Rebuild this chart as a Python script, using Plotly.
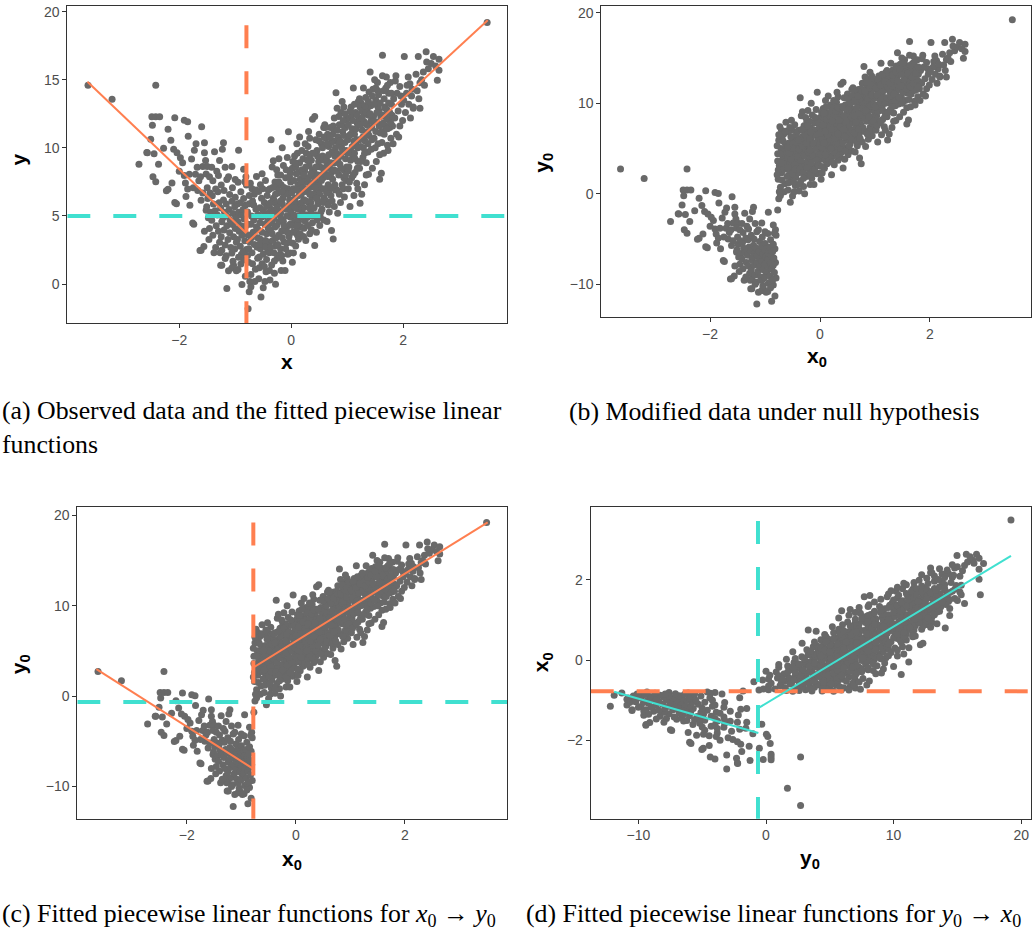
import plotly.graph_objects as go

# ---------------- data ----------------
BREAK_X = -0.79          # break point in x
NULL_SHIFT = 11.88       # vertical shift applied to the left branch under H0

# left branch (x < break), values as in the modified data (x0, y0)
LEFT_POINTS = [
    (-3.63, 2.71), (-3.20, 1.68), (-2.42, 2.71), (-2.49, 0.40), (-2.42, 0.40), (-2.35, 0.40),
    (-2.48, -0.22), (-2.08, 0.33), (-1.91, 0.14), (-1.85, 0.03), (-1.60, -0.33), (-2.20, -0.52),
    (-2.51, -1.25), (-2.57, -2.24), (-2.45, -2.31), (-2.72, -3.08), (-2.37, -3.08), (-2.47, -4.00),
    (-2.42, -4.37), (-2.15, -1.32), (-2.10, -1.98), (-2.04, -2.24), (-1.84, -1.03), (-1.70, -1.58),
    (-1.73, -2.06), (-1.55, -1.51), (-1.55, -2.24), (-1.53, -2.80), (-1.58, -3.24), (-1.50, -3.24),
    (-1.37, -2.17), (-1.21, -1.51), (-1.23, -1.98), (-1.06, -3.24), (-0.94, -2.06), (-0.85, -3.45),
    (-0.81, -4.00), (-0.83, -4.37), (-2.20, -4.92), (-2.13, -4.45), (-2.05, -5.99), (-1.94, -2.97),
    (-1.91, -3.90), (-1.89, -4.45), (-1.82, -3.82), (-1.71, -3.82), (-1.88, -5.44), (-1.81, -6.10),
    (-1.74, -7.49), (-1.67, -5.00), (-1.61, -5.73), (-1.52, -6.46), (-1.61, -9.40), (-1.56, -9.11),
    (-1.38, -9.58), (-1.24, -9.40), (-1.24, -10.50), (-1.15, -12.20), (-1.12, -10.90), (-1.03, -10.50),
    (-0.88, -11.90), (-0.82, -11.30), (-0.85, -10.10), (-0.80, -9.33), (-0.81, -7.60), (-0.82, -6.10),
    (-0.80, -4.60), (-1.26, -10.50), (-1.06, -10.70), (-1.63, -9.42), (-1.27, -9.58), (-1.76, -7.39),
    (-2.23, -5.03), (-2.08, -5.88), (-2.58, -2.22),
    (-1.50, -4.8), (-1.49, -5.6), (-1.51, -6.2), (-1.48, -7.0),
    (-1.45, -5.2), (-1.44, -6.6), (-1.46, -7.8),
    (-1.40, -4.3), (-1.41, -5.4), (-1.39, -6.0), (-1.42, -7.2), (-1.40, -8.3),
    (-1.35, -4.9), (-1.36, -6.5), (-1.34, -7.6),
    (-1.30, -3.9), (-1.31, -5.1), (-1.29, -5.9), (-1.32, -6.8), (-1.30, -8.0), (-1.28, -8.8),
    (-1.25, -4.6), (-1.26, -6.3), (-1.24, -7.3), (-1.25, -8.4),
    (-1.20, -5.0), (-1.21, -5.7), (-1.19, -6.6), (-1.22, -7.0), (-1.20, -7.9), (-1.18, -9.0),
    (-1.15, -4.2), (-1.16, -6.0), (-1.14, -6.9), (-1.15, -7.6), (-1.13, -8.6), (-1.16, -9.8),
    (-1.10, -5.3), (-1.11, -6.4), (-1.09, -7.2), (-1.10, -8.1), (-1.08, -9.2),
    (-1.05, -4.8), (-1.06, -5.8), (-1.04, -6.7), (-1.05, -7.5), (-1.03, -8.4), (-1.06, -9.6), (-1.04, -10.2),
    (-1.00, -5.5), (-1.01, -6.2), (-0.99, -7.0), (-1.00, -7.8), (-0.98, -8.8), (-1.01, -9.3),
    (-0.95, -4.4), (-0.96, -6.0), (-0.94, -6.6), (-0.95, -7.3), (-0.93, -8.0), (-0.96, -8.6), (-0.94, -9.9), (-0.95, -10.8),
    (-0.90, -5.1), (-0.91, -5.9), (-0.89, -6.8), (-0.90, -7.6), (-0.88, -8.3), (-0.91, -9.1), (-0.89, -9.7), (-0.90, -10.4),
    (-0.85, -5.6), (-0.86, -6.4), (-0.84, -7.1), (-0.85, -7.9), (-0.83, -8.7), (-0.86, -9.5),
    (-1.78, -2.7), (-1.68, -3.3), (-1.65, -4.3), (-1.75, -4.8), (-1.62, -4.0), (-1.58, -5.2), (-1.52, -3.8),
    (-1.46, -4.0), (-1.42, -3.3), (-1.33, -3.6), (-1.28, -2.8), (-1.18, -3.3), (-1.12, -4.0), (-1.00, -4.2),
    (-1.47, -8.6), (-1.55, -8.0), (-1.35, -9.2), (-1.18, -10.0), (-0.98, -10.9), (-1.98, -2.6), (-2.28, -1.9),
    (-2.00, -3.6), (-1.85, -4.9),
]

# right branch (x > break), identical in observed and modified data
RIGHT_POINTS = [
    (-0.77, -1.8), (-0.75, -0.55), (-0.72, 0.7), (-0.76, 1.6), (-0.70, 2.3), (-0.74, 3.1), (-0.68, 3.8),
    (-0.77, 4.4), (-0.71, 5.0), (-0.75, 5.9), (-0.66, 6.6), (-0.73, 7.4), (-0.62, 7.9), (-0.64, 1.1),
    (-0.61, 2.7), (-0.67, 4.7), (-0.63, 5.5), (-0.69, 6.1), (-0.76, 2.6), (-0.65, 0.2), (-0.60, 3.4),
    (-0.72, -0.2), (-0.62, 4.2), (-0.70, 7.0), (-0.78, 5.3),
    (-0.54, -0.95), (-0.50, -0.27), (-0.58, 0.4), (-0.45, 0.9), (-0.52, 1.5), (-0.57, 2.0), (-0.42, 2.4),
    (-0.49, 2.9), (-0.55, 3.3), (-0.44, 3.7), (-0.59, 4.0), (-0.47, 4.4), (-0.53, 4.9), (-0.41, 5.2),
    (-0.56, 5.6), (-0.48, 6.0), (-0.43, 6.5), (-0.51, 7.0), (-0.46, 7.6), (-0.58, 6.8), (-0.40, 3.1),
    (-0.50, 5.4), (-0.55, 2.6), (-0.44, 1.8), (-0.52, 8.1), (-0.42, 4.6), (-0.57, 1.2), (-0.47, 0.2),
    (-0.38, 0.3), (-0.30, 0.8), (-0.35, 1.4), (-0.25, 1.9), (-0.39, 2.3), (-0.28, 2.8), (-0.33, 3.2),
    (-0.22, 3.6), (-0.37, 4.0), (-0.26, 4.3), (-0.31, 4.8), (-0.21, 5.1), (-0.36, 5.5), (-0.27, 5.9),
    (-0.32, 6.3), (-0.23, 6.7), (-0.38, 7.0), (-0.29, 7.5), (-0.24, 8.0), (-0.34, 8.6), (-0.22, 9.2),
    (-0.36, 10.6), (-0.32, 9.05), (-0.20, 2.2), (-0.27, 3.4), (-0.35, 4.5), (-0.23, 5.4), (-0.30, 6.1),
    (-0.25, 7.1), (-0.39, 1.0), (-0.28, 0.0),
    (-0.18, 1.0), (-0.11, 1.0), (-0.15, 1.7), (-0.06, 2.2), (-0.19, 2.6), (-0.02, 2.29), (-0.13, 3.1),
    (-0.04, 3.5), (-0.17, 3.9), (-0.08, 4.2), (-0.14, 4.6), (-0.01, 4.9), (-0.19, 5.2), (-0.09, 5.5),
    (-0.16, 5.9), (-0.03, 6.2), (-0.12, 6.6), (-0.06, 7.0), (-0.18, 7.3), (-0.10, 7.8), (-0.02, 8.2),
    (-0.14, 8.7), (-0.07, 9.3), (-0.05, 11.19), (-0.16, 10.0), (-0.11, 4.0), (-0.04, 5.8), (-0.08, 3.0),
    (-0.15, 6.3), (-0.01, 7.5), (-0.19, 8.0),
    (0.04, 2.29), (0.02, 1.6), (0.08, 2.8), (0.13, 3.3), (0.03, 3.8), (0.17, 4.2), (0.06, 4.6),
    (0.11, 5.0), (0.19, 5.3), (0.01, 5.6), (0.14, 5.9), (0.07, 6.3), (0.18, 6.6), (0.04, 7.0),
    (0.12, 7.3), (0.16, 7.7), (0.09, 8.1), (0.02, 8.5), (0.15, 8.9), (0.06, 9.4), (0.19, 9.8),
    (0.10, 10.3), (0.13, 4.6), (0.05, 6.0), (0.17, 7.0), (0.08, 8.6), (0.11, 3.6), (0.15, 10.8), (0.03, 9.0),
    (0.21, 2.1), (0.26, 3.2), (0.33, 3.7), (0.23, 4.1), (0.38, 4.5), (0.29, 4.9), (0.35, 5.3),
    (0.22, 5.6), (0.31, 6.0), (0.37, 6.4), (0.25, 6.8), (0.34, 7.1), (0.28, 7.5), (0.39, 7.9),
    (0.24, 8.3), (0.32, 8.7), (0.36, 9.1), (0.27, 9.6), (0.30, 10.1), (0.38, 12.1), (0.33, 10.7),
    (0.21, 9.2), (0.26, 5.1), (0.35, 6.0), (0.29, 7.0), (0.38, 8.4), (0.24, 7.8), (0.31, 11.2),
    (0.36, 4.0), (0.23, 6.2),
    (0.42, 2.83), (0.45, 3.8), (0.51, 4.3), (0.58, 4.7), (0.43, 5.1), (0.55, 5.5), (0.48, 5.9),
    (0.59, 6.3), (0.44, 6.7), (0.53, 7.0), (0.47, 7.4), (0.57, 7.8), (0.41, 8.2), (0.52, 8.6),
    (0.49, 9.0), (0.56, 9.4), (0.46, 9.8), (0.54, 10.3), (0.42, 12.3), (0.50, 11.0), (0.58, 11.5),
    (0.44, 10.6), (0.60, 11.7), (0.47, 6.2), (0.55, 8.0), (0.51, 6.6), (0.43, 7.7), (0.58, 9.1), (0.52, 4.9),
    (0.75, 3.31), (0.72, 3.93), (0.64, 4.6), (0.68, 5.3), (0.77, 5.7), (0.62, 6.1), (0.71, 6.5),
    (0.79, 6.9), (0.66, 7.3), (0.74, 7.7), (0.61, 8.1), (0.69, 8.5), (0.78, 8.9), (0.63, 9.3),
    (0.73, 9.7), (0.67, 10.1), (0.76, 10.5), (0.65, 11.0), (0.70, 11.5), (0.80, 14.05), (0.77, 12.2),
    (0.62, 10.7), (0.72, 8.2), (0.68, 6.9), (0.79, 10.0), (0.64, 9.0), (0.75, 11.6), (0.70, 7.9),
    (0.83, 5.2), (0.88, 6.0), (0.95, 6.4), (0.82, 6.9), (0.91, 7.3), (0.98, 7.6), (0.85, 8.0),
    (0.93, 8.4), (0.87, 8.8), (0.97, 9.2), (0.81, 9.6), (0.90, 10.0), (0.96, 10.4), (0.84, 10.8),
    (0.92, 11.2), (0.86, 11.7), (0.99, 12.1), (0.89, 12.6), (0.94, 13.0), (0.82, 12.9), (0.97, 11.5),
    (0.88, 9.4), (0.93, 7.0), (0.85, 10.3), (0.99, 8.6), (0.91, 13.4),
    (1.05, 5.7), (1.12, 6.5), (1.02, 7.0), (1.17, 7.4), (1.08, 7.8), (1.14, 8.2), (1.03, 8.6),
    (1.19, 9.0), (1.10, 9.4), (1.06, 9.8), (1.16, 10.2), (1.01, 10.6), (1.13, 11.0), (1.09, 11.4),
    (1.18, 11.8), (1.04, 12.2), (1.15, 12.6), (1.07, 13.0), (1.11, 14.4), (1.20, 13.4), (1.13, 9.6),
    (1.02, 8.3), (1.17, 10.6), (1.08, 12.4), (1.19, 7.0), (1.06, 11.0),
    (1.23, 5.93), (1.26, 6.6), (1.31, 7.3), (1.38, 8.07), (1.22, 8.5), (1.34, 8.9), (1.28, 9.3),
    (1.37, 9.7), (1.24, 10.1), (1.32, 10.5), (1.39, 10.9), (1.27, 11.3), (1.35, 11.7), (1.21, 12.1),
    (1.30, 12.5), (1.36, 12.9), (1.25, 13.3), (1.33, 13.7), (1.29, 14.4), (1.39, 14.1), (1.23, 13.0),
    (1.37, 11.2), (1.29, 10.0), (1.34, 8.0), (1.26, 12.7),
    (1.41, 15.56), (1.45, 8.5), (1.52, 9.0), (1.58, 9.5), (1.43, 9.9), (1.55, 10.3), (1.48, 10.7),
    (1.59, 11.1), (1.44, 11.5), (1.53, 11.9), (1.47, 12.3), (1.57, 12.7), (1.42, 13.1), (1.51, 13.5),
    (1.56, 13.9), (1.46, 14.3), (1.54, 14.8), (1.58, 7.7), (1.50, 10.0), (1.43, 12.0), (1.55, 13.0),
    (1.49, 15.0), (1.60, 12.3),
    (1.61, 8.14), (1.63, 16.8), (1.70, 15.2), (1.65, 9.6), (1.72, 10.2), (1.78, 10.7), (1.62, 11.2),
    (1.68, 11.6), (1.75, 12.0), (1.64, 12.4), (1.71, 12.8), (1.79, 13.2), (1.66, 13.6), (1.74, 14.0),
    (1.69, 14.4), (1.77, 14.8), (1.63, 15.3), (1.73, 9.8), (1.76, 11.5), (1.67, 13.0), (1.80, 12.4),
    (1.62, 10.4),
    (1.82, 10.3), (1.88, 11.0), (1.94, 11.6), (1.85, 12.2), (1.91, 12.7), (1.97, 13.2), (1.83, 13.6),
    (1.89, 14.0), (1.94, 14.5), (1.86, 14.9), (1.99, 12.0), (1.81, 11.6), (1.96, 13.8), (1.87, 15.3),
    (1.92, 10.8),
    (2.02, 16.7), (2.07, 14.6), (2.04, 12.6), (2.10, 13.2), (2.15, 13.8), (2.06, 14.0), (2.12, 14.7),
    (2.18, 13.0), (2.09, 15.2), (2.16, 14.3), (2.01, 13.5), (2.13, 12.2),
    (2.27, 16.7), (2.41, 17.05), (2.54, 16.7), (2.64, 16.5), (2.64, 15.7), (2.61, 14.97), (2.23, 15.4),
    (2.36, 15.56), (2.30, 14.78), (2.18, 12.9), (2.30, 12.9), (2.25, 14.2), (2.33, 15.0), (2.45, 15.8),
    (2.50, 16.2), (2.38, 14.6), (2.58, 16.0), (2.42, 16.3), (2.28, 13.6),
    (3.50, 19.2),
    # denser core of the right branch
    (-0.74, 0.2), (-0.69, 1.5), (-0.77, 3.6), (-0.66, 2.9), (-0.72, 4.4), (-0.61, 5.0), (-0.75, 6.5),
    (-0.67, 5.8), (-0.63, 6.9), (-0.71, 3.4), (-0.60, 1.9), (-0.78, 2.1),
    (-0.58, 2.9), (-0.52, 3.8), (-0.46, 3.2), (-0.41, 4.1), (-0.56, 4.5), (-0.49, 5.0), (-0.44, 5.7),
    (-0.59, 5.1), (-0.53, 6.3), (-0.41, 6.9), (-0.50, 2.2), (-0.45, 2.7), (-0.55, 7.3), (-0.48, 1.3),
    (-0.37, 2.7), (-0.31, 2.3), (-0.24, 2.9), (-0.34, 3.7), (-0.29, 4.2), (-0.21, 4.6), (-0.38, 4.9),
    (-0.32, 5.3), (-0.25, 5.6), (-0.36, 6.0), (-0.28, 6.6), (-0.22, 7.5), (-0.33, 7.1), (-0.26, 8.4),
    (-0.39, 5.9), (-0.30, 1.7),
    (-0.17, 2.1), (-0.10, 2.6), (-0.03, 3.1), (-0.16, 3.4), (-0.07, 3.8), (-0.13, 4.3), (-0.02, 4.4),
    (-0.18, 4.8), (-0.08, 5.0), (-0.12, 5.6), (-0.01, 5.3), (-0.19, 6.1), (-0.05, 6.6), (-0.13, 7.1),
    (-0.03, 7.9), (-0.09, 8.4), (-0.17, 6.8),
    (0.03, 3.0), (0.09, 3.9), (0.16, 3.7), (0.02, 4.3), (0.10, 4.3), (0.18, 4.9), (0.04, 5.1),
    (0.12, 5.5), (0.19, 6.0), (0.07, 5.6), (0.14, 6.5), (0.01, 6.7), (0.10, 6.9), (0.18, 7.4),
    (0.05, 7.6), (0.13, 8.2), (0.19, 8.4), (0.07, 8.9), (0.11, 9.6),
    (0.22, 3.5), (0.30, 4.3), (0.37, 5.0), (0.25, 4.6), (0.32, 5.6), (0.20, 5.0), (0.27, 6.1),
    (0.39, 6.6), (0.21, 7.1), (0.33, 6.6), (0.30, 7.8), (0.37, 7.4), (0.26, 8.6), (0.35, 8.1),
    (0.22, 8.0), (0.29, 9.1), (0.38, 9.6), (0.33, 9.5), (0.25, 10.3),
    (0.46, 4.7), (0.53, 5.3), (0.41, 5.6), (0.57, 6.0), (0.45, 6.3), (0.50, 7.2), (0.59, 7.0),
    (0.43, 7.1), (0.54, 7.6), (0.48, 8.0), (0.58, 8.4), (0.44, 8.6), (0.52, 9.3), (0.47, 9.4),
    (0.56, 10.0), (0.50, 10.5), (0.59, 10.8), (0.41, 9.6),
    (0.66, 5.8), (0.73, 6.1), (0.63, 6.7), (0.78, 7.3), (0.70, 7.1), (0.65, 7.9), (0.76, 8.4),
    (0.62, 8.6), (0.71, 8.9), (0.67, 9.5), (0.78, 9.4), (0.72, 10.4), (0.64, 10.3), (0.74, 11.0),
    (0.69, 10.8), (0.61, 11.5), (0.77, 11.3),
    (0.86, 6.6), (0.94, 7.8), (0.81, 8.3), (0.89, 8.5), (0.97, 8.0), (0.84, 9.2), (0.92, 9.7),
    (0.98, 9.8), (0.87, 10.5), (0.94, 10.9), (0.82, 11.3), (0.90, 11.7), (0.96, 12.5), (0.85, 12.3),
    (0.93, 12.0),
    (1.04, 7.5), (1.11, 8.0), (1.18, 8.5), (1.06, 9.1), (1.14, 9.2), (1.01, 9.6), (1.09, 10.1),
    (1.19, 10.0), (1.04, 10.9), (1.12, 10.5), (1.16, 11.4), (1.02, 11.7), (1.10, 12.0), (1.18, 12.4),
    (1.05, 12.7), (1.13, 13.2),
    (1.24, 9.0), (1.31, 9.6), (1.37, 10.3), (1.22, 10.6), (1.28, 10.8), (1.35, 11.0), (1.24, 11.7),
    (1.31, 11.9), (1.38, 12.4), (1.27, 12.2), (1.34, 12.6), (1.22, 13.6), (1.32, 13.1), (1.38, 13.4),
    (1.44, 10.6), (1.51, 11.2), (1.57, 11.6), (1.46, 11.9), (1.53, 12.6), (1.59, 13.3), (1.41, 12.5),
    (1.48, 13.2), (1.55, 14.2), (1.45, 13.8), (1.51, 14.4),
    (1.66, 11.0), (1.72, 11.4), (1.78, 11.8), (1.64, 11.8), (1.70, 12.2), (1.76, 12.6), (1.68, 12.9),
    (1.74, 13.3), (1.79, 14.0), (1.65, 14.2), (1.72, 14.6),
]

# fitted piecewise-linear segments
FIT_A_LEFT_X, FIT_A_LEFT_Y = [-3.64, -0.80], [14.85, 3.73]
FIT_A_RIGHT_X, FIT_A_RIGHT_Y = [-0.80, 3.51], [3.02, 19.36]
FIT_C_LEFT_X, FIT_C_LEFT_Y = [-3.66, -0.78], [2.98, -8.05]
FIT_C_RIGHT_X, FIT_C_RIGHT_Y = [-0.78, 3.52], [3.15, 19.2]
FIT_D_LEFT_X, FIT_D_LEFT_Y = [-11.9, -0.60], [-0.79, -1.82]
FIT_D_RIGHT_X, FIT_D_RIGHT_Y = [-0.55, 19.2], [-1.19, 2.60]

# threshold (dashed) lines
A_VLINE_X, A_VLINE_TOP, A_HLINE_Y = -0.80, 19.0, 5.0
C_VLINE_X, C_VLINE_TOP, C_HLINE_Y = -0.78, 19.2, -0.66
D_VLINE_X, D_VLINE_TOP, D_HLINE_Y = -0.63, 3.47, -0.78

# axis ranges
RANGE_A = dict(x=[-4.0, 3.86], y=[-2.85, 20.39])
RANGE_B = dict(x=[-3.98, 3.84], y=[-13.66, 20.7])
RANGE_C = dict(x=[-4.01, 3.88], y=[-13.56, 20.9])
RANGE_D = dict(x=[-13.74, 20.77], y=[-3.96, 3.82])

TICKS_X_AB = [-2, 0, 2]
TICKS_Y_A = [0, 5, 10, 15, 20]
TICKS_Y_BC = [-10, 0, 10, 20]
TICKS_X_D = [-10, 0, 10, 20]
TICKS_Y_D = [-2, 0, 2]

CAPTIONS = [
    "(a) Observed data and the fitted piecewise linear<br>functions",
    "(b) Modified data under null hypothesis",
    "(c) Fitted piecewise linear functions for <i>x</i><sub>0</sub> → <i>y</i><sub>0</sub>",
    "(d) Fitted piecewise linear functions for <i>y</i><sub>0</sub> → <i>x</i><sub>0</sub>",
]

# ---------------- derived series ----------------
left_x = [p[0] for p in LEFT_POINTS]
left_y0 = [p[1] for p in LEFT_POINTS]
left_y = [v + NULL_SHIFT for v in left_y0]
right_x = [p[0] for p in RIGHT_POINTS]
right_y = [p[1] for p in RIGHT_POINTS]

x_obs = left_x + right_x
y_obs = left_y + right_y
x0 = left_x + right_x
y0 = left_y0 + right_y

CORAL = "#FF7F50"
TURQ = "#40E0D0"
PT = "#696969"
W, H = 1032, 934


def px_x(p):
    return p / W


def px_y(p):
    return 1 - p / H


fig = go.Figure()

DASH = "23px,23px"


def add_panel(k, xs, ys, lines):
    xa = "x" if k == 1 else f"x{k}"
    ya = "y" if k == 1 else f"y{k}"
    fig.add_trace(go.Scatter(x=xs, y=ys, mode="markers", xaxis=xa, yaxis=ya,
                             marker=dict(size=7, color=PT, line=dict(width=0)),
                             showlegend=False, hoverinfo="skip"))
    for lx, ly, col, wd, dash in lines:
        fig.add_trace(go.Scatter(x=lx, y=ly, mode="lines", xaxis=xa, yaxis=ya,
                                 line=dict(color=col, width=wd, dash=dash),
                                 showlegend=False, hoverinfo="skip"))


# panel a
add_panel(1, x_obs, y_obs, [
    (RANGE_A["x"], [A_HLINE_Y, A_HLINE_Y], TURQ, 4, DASH),
    ([A_VLINE_X, A_VLINE_X], [A_VLINE_TOP, RANGE_A["y"][0] - 1], CORAL, 4, DASH),
    (FIT_A_LEFT_X, FIT_A_LEFT_Y, CORAL, 2, "solid"),
    (FIT_A_RIGHT_X, FIT_A_RIGHT_Y, CORAL, 2, "solid"),
])
# panel b
add_panel(2, x0, y0, [])
# panel c
add_panel(3, x0, y0, [
    (RANGE_C["x"], [C_HLINE_Y, C_HLINE_Y], TURQ, 4, DASH),
    ([C_VLINE_X, C_VLINE_X], [C_VLINE_TOP, RANGE_C["y"][0] - 1], CORAL, 4, DASH),
    (FIT_C_LEFT_X, FIT_C_LEFT_Y, CORAL, 2, "solid"),
    (FIT_C_RIGHT_X, FIT_C_RIGHT_Y, CORAL, 2, "solid"),
])
# panel d
add_panel(4, y0, x0, [
    (RANGE_D["x"], [D_HLINE_Y, D_HLINE_Y], CORAL, 4, DASH),
    ([D_VLINE_X, D_VLINE_X], [D_VLINE_TOP, RANGE_D["y"][0] - 1], TURQ, 4, DASH),
    (FIT_D_LEFT_X, FIT_D_LEFT_Y, TURQ, 2, "solid"),
    (FIT_D_RIGHT_X, FIT_D_RIGHT_Y, TURQ, 2, "solid"),
])

axis_common = dict(showgrid=False, zeroline=False, showline=True, mirror=True,
                   linecolor="#333333", linewidth=1, ticks="outside", ticklen=4,
                   tickcolor="#333333", tickwidth=1,
                   tickfont=dict(family="Liberation Sans, Arial", size=14, color="#4D4D4D"))

domains = {
    1: dict(x=[px_x(67.3), px_x(507.3)], y=[px_y(321), px_y(3.3)]),
    2: dict(x=[px_x(601.3), px_x(1031)], y=[px_y(315.3), px_y(3.3)]),
    3: dict(x=[px_x(77.3), px_x(507.3)], y=[px_y(818.3), px_y(505.7)]),
    4: dict(x=[px_x(590.7), px_x(1031)], y=[px_y(818.3), px_y(505.7)]),
}
ranges = {1: RANGE_A, 2: RANGE_B, 3: RANGE_C, 4: RANGE_D}
xticks = {1: TICKS_X_AB, 2: TICKS_X_AB, 3: TICKS_X_AB, 4: TICKS_X_D}
yticks = {1: TICKS_Y_A, 2: TICKS_Y_BC, 3: TICKS_Y_BC, 4: TICKS_Y_D}

layout_axes = {}
for k in range(1, 5):
    sx = "" if k == 1 else str(k)
    layout_axes[f"xaxis{sx}"] = dict(axis_common, domain=domains[k]["x"], range=ranges[k]["x"],
                                     tickvals=xticks[k], anchor=f"y{sx}")
    layout_axes[f"yaxis{sx}"] = dict(axis_common, domain=domains[k]["y"], range=ranges[k]["y"],
                                     tickvals=yticks[k], anchor=f"x{sx}")

title_font = dict(family="Liberation Sans, Arial", size=21, color="#000000")
annotations = []
AXIS_TITLES = [
    ("<b>x</b>", 287.3, 359.3, 0),
    ("<b>y</b>", 18.3, 156.7, -90),
    ("<b>x<sub>0</sub></b>", 816.7, 355.0, 0),
    ("<b>y<sub>0</sub></b>", 543.3, 160.0, -90),
    ("<b>x<sub>0</sub></b>", 291.7, 859.3, 0),
    ("<b>y<sub>0</sub></b>", 20.0, 663.3, -90),
    ("<b>y<sub>0</sub></b>", 810.0, 858.3, 0),
    ("<b>x<sub>0</sub></b>", 541.7, 661.7, -90),
]
for txt, ax, ay, rot in AXIS_TITLES:
    annotations.append(dict(text=txt, xref="paper", yref="paper", x=px_x(ax), y=px_y(ay),
                            xanchor="center", yanchor="middle", showarrow=False,
                            textangle=rot, font=title_font))

cap_font = dict(family="Liberation Serif, Times New Roman", size=25.8, color="#000000")
CAPTION_POS = [(0, 410, "top"), (567, 410, "middle"), (0, 915, "middle"), (524, 915, "middle")]
for txt, (cx, cy, va) in zip(CAPTIONS, CAPTION_POS):
    if va == "top":
        annotations.append(dict(text=txt, xref="paper", yref="paper", x=px_x(cx), y=px_y(cy - 18),
                                xanchor="left", yanchor="top", align="left", showarrow=False,
                                font=cap_font))
    else:
        annotations.append(dict(text=txt, xref="paper", yref="paper", x=px_x(cx), y=px_y(cy),
                                xanchor="left", yanchor="middle", align="left", showarrow=False,
                                font=cap_font))

fig.update_layout(width=W, height=H, margin=dict(l=0, r=0, t=0, b=0),
                  paper_bgcolor="white", plot_bgcolor="white",
                  annotations=annotations, showlegend=False, **layout_axes)

fig.write_html("out.html")
